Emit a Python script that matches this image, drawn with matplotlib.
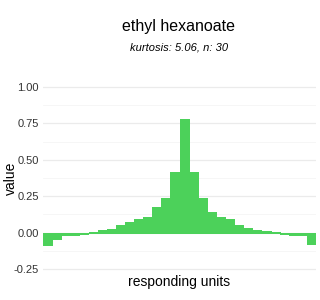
import matplotlib
matplotlib.use("Agg")
import matplotlib.pyplot as plt
import numpy as np

plt.rcParams['font.family'] = ['Liberation Sans', 'DejaVu Sans']

title = "ethyl hexanoate"
subtitle = "kurtosis: 5.06, n: 30"
values = [-0.086, -0.041, -0.018, -0.018, -0.011, 0.007, 0.020, 0.027, 0.050, 0.075,
          0.095, 0.105, 0.173, 0.239, 0.416, 0.777, 0.416, 0.239, 0.143, 0.105,
          0.095, 0.055, 0.034, 0.020, 0.014, 0.002, -0.011, -0.018, -0.018, -0.080]
yticks = [-0.25, 0.0, 0.25, 0.5, 0.75, 1.0]
ytick_labels = ["-0.25", "0.00", "0.25", "0.50", "0.75", "1.00"]

fig = plt.figure(figsize=(3.2, 3.0), dpi=100)
ax = fig.add_axes([43/320, 27/300, 273/320, 189/300])

x = np.arange(len(values))
ax.bar(x, values, width=1.0, color='#4CD15A', edgecolor='#4CD15A', linewidth=0.5,
       antialiased=False, zorder=2)
ax.set_xlim(-0.5, len(values) - 0.5)
ax.set_ylim(-0.277, 1.02)

ax.set_yticks(yticks)
ax.set_yticklabels(ytick_labels)
ax.set_yticks([-0.125, 0.125, 0.375, 0.625, 0.875], minor=True)
ax.set_xticks([])
ax.tick_params(axis='y', which='both', length=0, labelsize=8, labelcolor='#333333', pad=3)
ax.grid(axis='y', which='major', color='#ebebeb', linewidth=0.9, zorder=0)
ax.grid(axis='y', which='minor', color='#f5f5f5', linewidth=0.6, zorder=0)
for s in ax.spines.values():
    s.set_visible(False)

ax.set_xlabel("responding units", fontsize=10)
ax.set_ylabel("value", fontsize=10)
ax.xaxis.set_label_coords(0.5, -9/189, transform=ax.transAxes)
ax.xaxis.label.set_va('center')
ax.yaxis.set_label_coords((11 - 43)/273, 0.5, transform=ax.transAxes)
ax.yaxis.label.set_va('center')

fig.text(179/320, 1 - 26/300, title, ha='center', va='center', fontsize=11.5)
fig.text(179/320, 1 - 48/300, subtitle, ha='center', va='center', fontsize=8, style='italic')

fig.savefig("out.png", dpi=100)
